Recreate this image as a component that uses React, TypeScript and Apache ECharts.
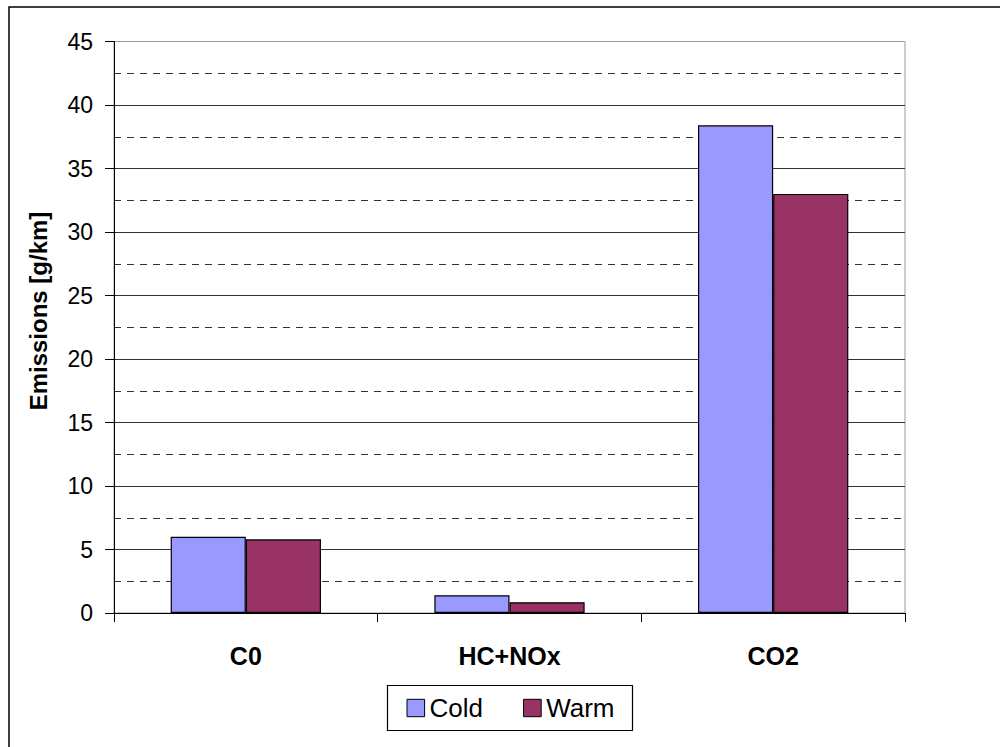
import React, { useEffect, useRef } from "react";
import * as echarts from "echarts";

const categories = ["C0", "HC+NOx", "CO2"];
const coldValues = [6.0, 1.4, 38.4];
const warmValues = [5.8, 0.85, 33.0];
const seriesNames = ["Cold", "Warm"];
const yAxisTitle = "Emissions [g/km]";

const FONT = "'Liberation Sans', Arial, Helvetica, sans-serif";

export default function App() {
  const ref = useRef<HTMLDivElement>(null);
  useEffect(() => {
    if (!ref.current) return;
    const chart = echarts.init(ref.current, null, { renderer: "svg" });
    chart.setOption({
      animation: false,
      backgroundColor: "#ffffff",
      grid: {
        left: 114,
        top: 41.5,
        right: 95,
        bottom: 134,
        show: true,
        borderColor: "#9a9a9a",
        borderWidth: 1,
        backgroundColor: "transparent",
      },
      xAxis: {
        type: "category",
        data: categories,
        axisLine: { lineStyle: { color: "#000", width: 1 } },
        axisTick: { show: true, alignWithLabel: false, length: 9, lineStyle: { color: "#000" } },
        axisLabel: {
          color: "#000",
          fontFamily: FONT,
          fontWeight: "bold",
          fontSize: 25,
          margin: 30,
        },
        splitLine: { show: false },
      },
      yAxis: {
        type: "value",
        min: 0,
        max: 45,
        interval: 5,
        axisLine: { show: true, lineStyle: { color: "#000", width: 1 } },
        axisTick: { show: true, length: 9, lineStyle: { color: "#000" } },
        axisLabel: {
          color: "#000",
          fontFamily: FONT,
          fontSize: 23,
          margin: 21,
        },
        splitLine: {
          show: true,
          showMaxLine: false,
          lineStyle: { color: "#333", width: 1, type: "solid" },
        },
        minorTick: { show: false, splitNumber: 2 },
        minorSplitLine: {
          show: true,
          lineStyle: { color: "#333", width: 1, type: [7, 6] },
        },
      },
      legend: {
        data: seriesNames,
        left: 406.5,
        top: 695,
        padding: 0,
        itemWidth: 17.6,
        itemHeight: 17.4,
        itemGap: 40,
        icon: "rect",
        itemStyle: { borderColor: "#000", borderWidth: 1 },
        textStyle: {
          color: "#000",
          fontFamily: FONT,
          fontSize: 26,
          lineHeight: 26,
        },
      },
      graphic: [
        {
          type: "rect",
          shape: { x: 9, y: 7, width: 1200, height: 900 },
          style: { fill: "none", stroke: "#000", lineWidth: 1.5 },
          silent: true,
          z: 100,
        },
        {
          type: "rect",
          shape: { x: 387.5, y: 685.5, width: 245, height: 45 },
          style: { fill: "none", stroke: "#000", lineWidth: 1.2 },
          silent: true,
          z: 100,
        },
        {
          type: "text",
          x: 38,
          y: 311,
          rotation: Math.PI / 2,
          style: {
            text: yAxisTitle,
            fontFamily: FONT,
            fontWeight: "bold",
            fontSize: 24,
            fill: "#000",
            align: "center",
            verticalAlign: "middle",
          },
          silent: true,
        },
      ],
      series: [
        {
          name: seriesNames[0],
          type: "bar",
          data: coldValues,
          barGap: "0%",
          barCategoryGap: "43%",
          itemStyle: { color: "#9999FF", borderColor: "#000", borderWidth: 1.2 },
        },
        {
          name: seriesNames[1],
          type: "bar",
          data: warmValues,
          barGap: "0%",
          barCategoryGap: "43%",
          itemStyle: { color: "#993366", borderColor: "#000", borderWidth: 1.2 },
        },
      ],
    });
    return () => chart.dispose();
  }, []);
  return (
    <div
      ref={ref}
      style={{ position: "fixed", left: 0, top: 0, width: 1000, height: 747, background: "#fff" }}
    />
  );
}
